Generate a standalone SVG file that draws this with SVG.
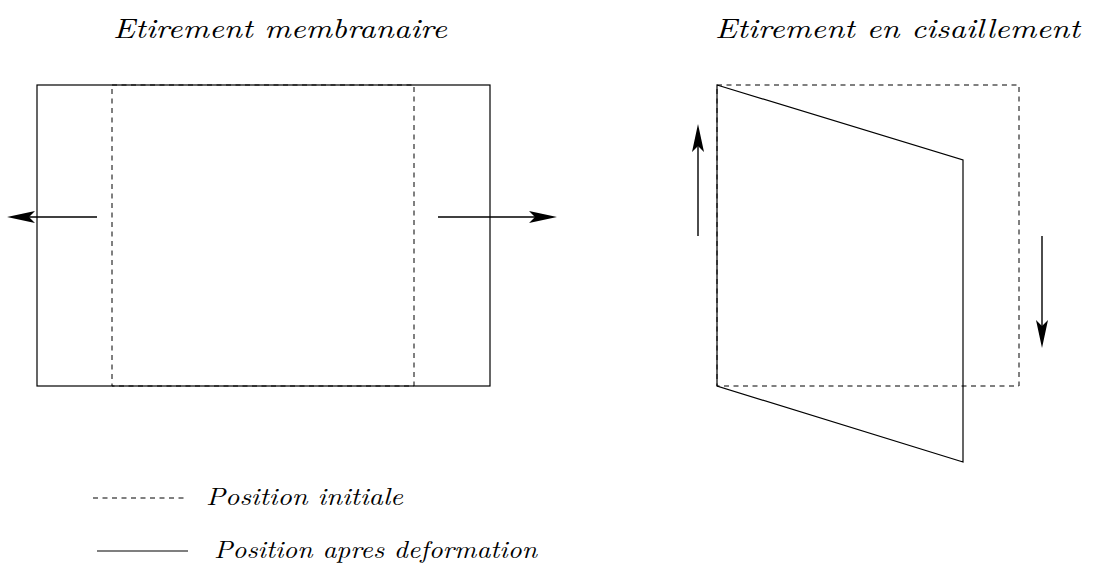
<svg xmlns="http://www.w3.org/2000/svg" width="1101" height="574" viewBox="0 0 1101 574">
  <style>
    .solid { fill: none; stroke: #000; stroke-width: 1.2; }
    .dash { fill: none; stroke: #000; stroke-width: 1; stroke-dasharray: 5 4.5; }
    .shaft { fill: none; stroke: #000; stroke-width: 1.4; }
    .head { fill: #000; stroke: none; }
    .title { font-family: "Latin Modern Roman", "Liberation Serif", serif; font-style: italic; font-size: 28px; fill: #000; }
    .legend { font-family: "Latin Modern Roman", "Liberation Serif", serif; font-style: italic; font-size: 24px; fill: #000; }
  </style>
  <defs>
    <!-- arrowhead pointing right, tip at origin -->
    <path id="tip" class="head" d="M0 0 L-28 -6 L-22 0 L-28 6 Z"/>
  </defs>

  <g id="title-membrane">
    <text class="title" x="113" y="38" textLength="334" lengthAdjust="spacingAndGlyphs">Etirement membranaire</text>
  </g>
  <g id="title-shear">
    <text class="title" x="715" y="38" textLength="365" lengthAdjust="spacingAndGlyphs">Etirement en cisaillement</text>
  </g>

  <!-- membrane stretch: deformed (solid) and initial (dashed) -->
  <g id="membrane-deformed">
    <rect class="solid" x="37" y="85" width="453" height="301"/>
  </g>
  <g id="membrane-initial">
    <rect class="dash" x="112" y="85" width="302" height="301"/>
  </g>

  <!-- shear stretch: initial square and deformed parallelogram -->
  <g id="shear-initial">
    <rect class="dash" x="717" y="85" width="302" height="301"/>
  </g>
  <g id="shear-deformed">
    <path class="solid" d="M717 85 L963 160 L963 462 L717 386 Z"/>
  </g>

  <g id="connectors">
    <line class="shaft" x1="97" y1="217" x2="20" y2="217"/>
    <use href="#tip" transform="translate(7 217) rotate(180)"/>
    <line class="shaft" x1="438" y1="217" x2="545" y2="217"/>
    <use href="#tip" transform="translate(557 217)"/>
    <line class="shaft" x1="698" y1="236" x2="698" y2="136"/>
    <use href="#tip" transform="translate(698 124) rotate(-90)"/>
    <line class="shaft" x1="1042" y1="236" x2="1042" y2="336"/>
    <use href="#tip" transform="translate(1042 348) rotate(90)"/>
  </g>

  <g id="legend-initial">
    <line class="dash" x1="93" y1="498" x2="188" y2="498"/>
    <text class="legend" x="206" y="505" textLength="197" lengthAdjust="spacingAndGlyphs">Position initiale</text>
  </g>
  <g id="legend-deformed">
    <line class="solid" x1="97" y1="551" x2="188" y2="551"/>
    <text class="legend" x="214" y="558" textLength="323" lengthAdjust="spacingAndGlyphs">Position apres deformation</text>
  </g>
</svg>
